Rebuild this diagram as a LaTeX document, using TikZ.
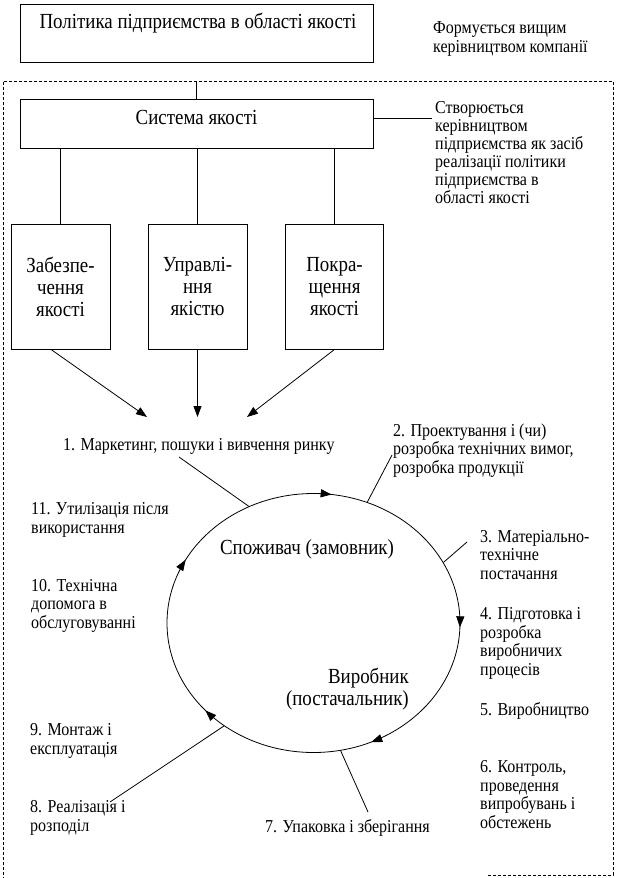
\documentclass[tikz,border=0pt]{standalone}
\usepackage{fontspec}
\setmainfont[FakeStretch=0.88]{Liberation Serif}
\usetikzlibrary{arrows.meta,shapes.geometric,decorations.markings}
\begin{document}
\begin{tikzpicture}[x=1pt,y=-1pt,
  boxst/.style={draw,line width=0.9pt,inner sep=0pt},
  big/.style={font=\fontsize{21.5}{22}\selectfont,inner sep=0pt},
  small/.style={font=\fontsize{18.2}{18.5}\selectfont,align=left,anchor=base west,inner sep=0pt},
  conn/.style={line width=0.8pt},
  arr/.style={conn,-{Triangle[length=11pt,width=8pt]}},
]
\useasboundingbox (0,0) rectangle (616,878);

% dashed frame
\draw[line width=0.8pt,dash pattern=on 3pt off 2pt] (488,875) -- (613,875) -- (613,81) -- (3,81) -- (3,878);
\coordinate (ftop) at (196.5,81);

% top box
\node[boxst,minimum width=353pt,minimum height=58pt] (pol) at (196.5,33) {};
\node[big,anchor=base] (polt) at (198,28) {Політика підприємства в області якості};
\node[small] (polr) at (433,52) {Формується вищим\\керівництвом компанії};

% system box
\node[boxst,minimum width=353pt,minimum height=49pt] (sys) at (196.5,123.5) {};
\node[big,anchor=base] (syst) at (196.5,124) {Система якості};
\draw[conn] (ftop) -- (sys.north);
\coordinate (sysr) at (432,118);
\draw[conn] ([yshift=5.5pt]sys.east) -- (sysr);
\node[small,font=\fontsize{18.2}{18}\selectfont] (sysn) at (435,203) {Створюється\\керівництвом\\підприємства як засіб\\реалізації політики\\підприємства в\\області якості};

% three boxes
\node[boxst,big,align=center,minimum width=99pt,minimum height=125pt] (b1) at (60.5,286.5) {Забезпе-\\чення\\якості};
\node[boxst,big,align=center,minimum width=99pt,minimum height=125pt] (b2) at (197.5,286.5) {Управлі-\\ння\\якістю};
\node[boxst,big,align=center,minimum width=98pt,minimum height=125pt] (b3) at (334.5,286.5) {Покра-\\щення\\якості};
\draw[conn] (b1.north) -- (b1.north |- sys.south);
\draw[conn] (b2.north) -- (b2.north |- sys.south);
\draw[conn] (b3.north) -- (b3.north |- sys.south);

\coordinate (t1) at (147,417);
\coordinate (t2) at (197.5,417);
\coordinate (t3) at (247,417);
\draw[arr] ([xshift=-9.5pt]b1.south) -- (t1);
\draw[arr] (b2.south) -- (t2);
\draw[arr] (b3.south) -- (t3);

% cycle
\node[ellipse,draw,conn,minimum width=293pt,minimum height=259pt,inner sep=0pt,
  postaction={decorate,decoration={markings,
    mark=at position 0.229 with {\arrowreversed{Triangle[length=11pt,width=8pt]}},
    mark=at position 0.423 with {\arrowreversed{Triangle[length=11pt,width=8pt]}},
    mark=at position 0.613 with {\arrowreversed{Triangle[length=11pt,width=8pt]}},
    mark=at position 0.818 with {\arrowreversed{Triangle[length=11pt,width=8pt]}},
    mark=at position 0.995 with {\arrowreversed{Triangle[length=11pt,width=8pt]}}}}]
  (cyc) at (313.5,623) {};

\node[big,anchor=base] (cons) at (307,554) {Споживач (замовник)};
\node[big,align=right,anchor=base east] (prod) at (409,705) {Виробник\\(постачальник)};

% labels
\node[small] (s1) at (63,450) {1. Маркетинг, пошуки і вивчення ринку};
\node[small] (s2) at (393,473) {2. Проектування і (чи)\\розробка технічних вимог,\\розробка продукції};
\node[small] (s3) at (480,579) {3. Матеріально-\\технічне\\постачання};
\node[small] (s4) at (480,675) {4. Підготовка і\\розробка\\виробничих\\процесів};
\node[small] (s5) at (480,715) {5. Виробництво};
\node[small] (s6) at (480,828) {6. Контроль,\\проведення\\випробувань і\\обстежень};
\node[small] (s7) at (265,832) {7. Упаковка і зберігання};
\node[small] (s8) at (30,831) {8. Реалізація і\\розподіл};
\node[small] (s9) at (30,754) {9. Монтаж і\\експлуатація};
\node[small] (s10) at (31,628) {10. Технічна\\допомога в\\обслуговуванні};
\node[small] (s11) at (31,533) {11. Утилізація після\\використання};

% leaders
\coordinate (l1) at (179,457);
\coordinate (l2) at (392,455);
\coordinate (l3) at (467,542);
\coordinate (l7) at (368,812);
\coordinate (l8) at (110,802);
\draw[conn] (l1) -- (cyc.119.8);
\draw[conn] (l2) -- (cyc.66.9);
\draw[conn] (l3) -- (cyc.25.8);
\draw[conn] (l7) -- (cyc.282.6);
\draw[conn] (l8) -- (cyc.229.3);
\end{tikzpicture}
\end{document}
